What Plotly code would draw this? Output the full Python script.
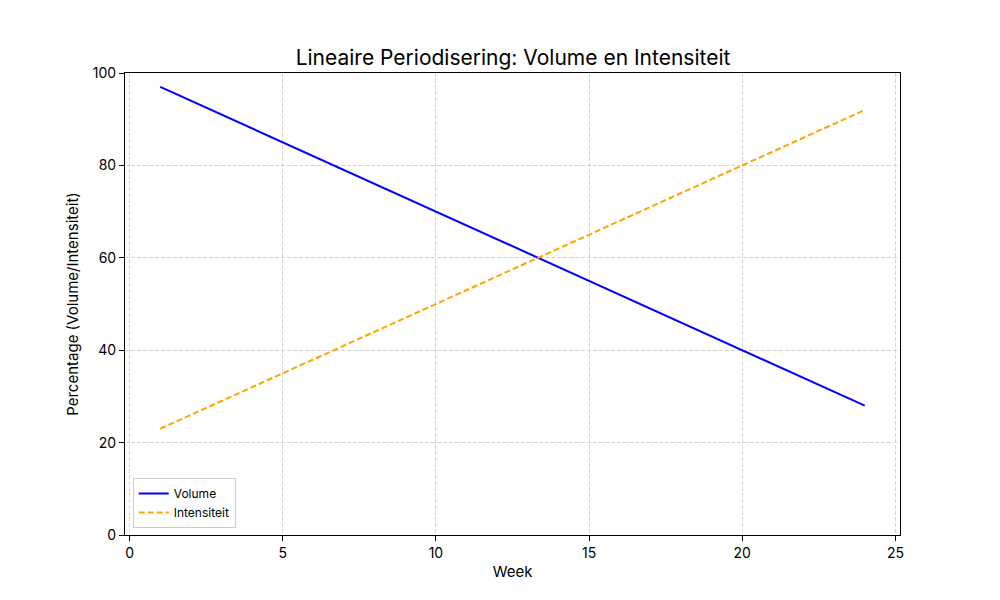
import plotly.graph_objects as go

weeks = list(range(1, 25))
volume = [97, 94, 91, 88, 85, 82, 79, 76, 73, 70, 67, 64,
          61, 58, 55, 52, 49, 46, 43, 40, 37, 34, 31, 28]
intensiteit = [23, 26, 29, 32, 35, 38, 41, 44, 47, 50, 53, 56,
               59, 62, 65, 68, 71, 74, 77, 80, 83, 86, 89, 92]

fig = go.Figure()
fig.add_trace(go.Scatter(x=weeks, y=volume, mode="lines", name="Volume",
                         line=dict(color="blue", width=2)))
fig.add_trace(go.Scatter(x=weeks, y=intensiteit, mode="lines", name="Intensiteit",
                         line=dict(color="orange", width=2, dash="6px,3px")))

axis_common = dict(
    showline=True, linecolor="black", linewidth=1, mirror=True,
    ticks="outside", ticklen=5, tickcolor="black",
    showgrid=True, gridcolor="#d3d3d3", griddash="4px,2px", gridwidth=1,
    zeroline=False, tickfont=dict(size=14, color="black"),
)

fig.update_layout(
    width=1000, height=600,
    paper_bgcolor="white", plot_bgcolor="white",
    font=dict(family="Inter, Roboto, sans-serif", color="black"),
    title=dict(text="Lineaire Periodisering: Volume en Intensiteit",
               x=0.505, xanchor="center", y=0.917, yanchor="middle",
               font=dict(size=21)),
    margin=dict(l=117, r=108, t=65, b=73),
    xaxis=dict(range=[-0.15, 25.15], tickvals=[0, 5, 10, 15, 20, 25],
               title=dict(text="Week", font=dict(size=15), standoff=6),
               **axis_common),
    yaxis=dict(range=[0, 100], tickvals=[0, 20, 40, 60, 80, 100],
               title=dict(text="Percentage (Volume/Intensiteit)", font=dict(size=15), standoff=10),
               **axis_common),
    legend=dict(x=0.01, y=0.015, xanchor="left", yanchor="bottom",
                bgcolor="rgba(255,255,255,0.8)", bordercolor="#cccccc", borderwidth=1,
                font=dict(size=12)),
    showlegend=True,
)

fig.write_html("out.html")
